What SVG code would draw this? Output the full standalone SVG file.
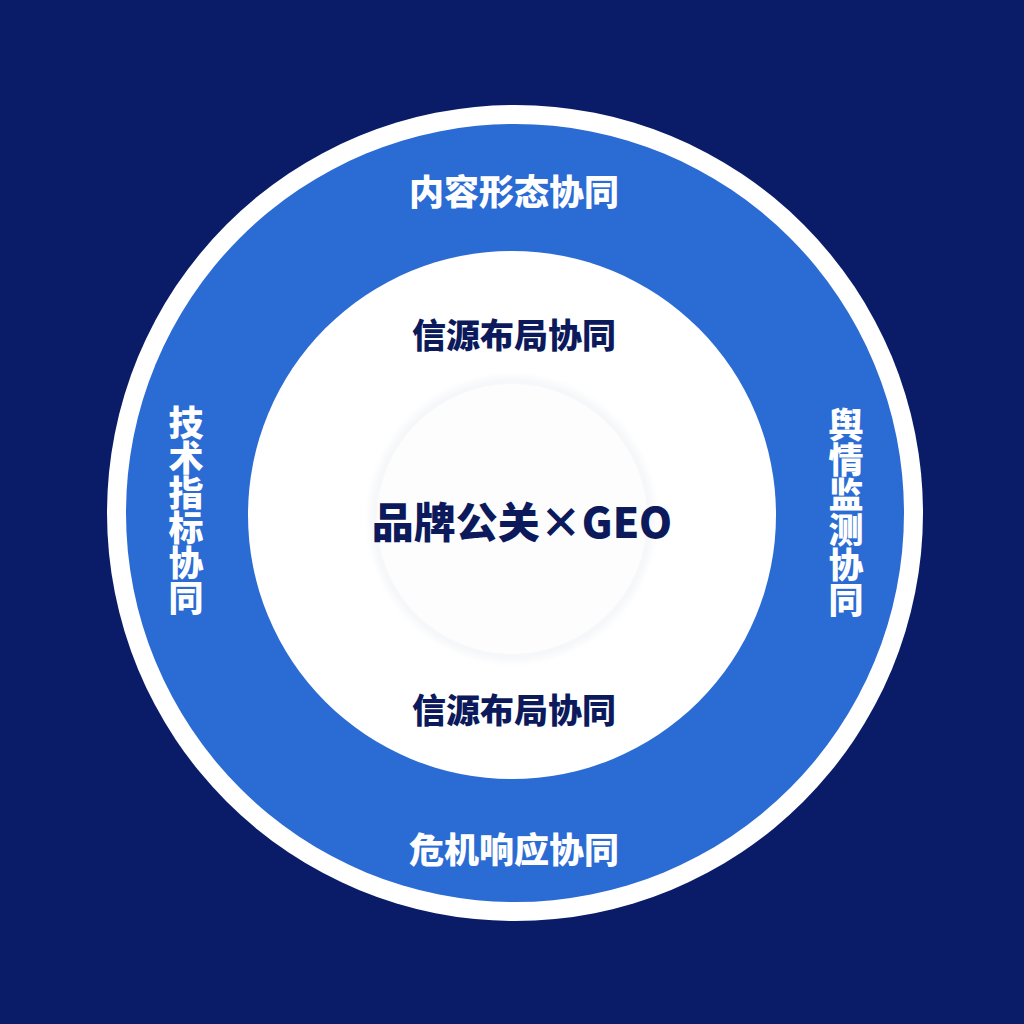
<svg xmlns="http://www.w3.org/2000/svg" width="1024" height="1024" viewBox="0 0 1024 1024">
<defs>
<style>
.lbl{font-family:"Noto Sans CJK SC","Noto Sans",sans-serif;font-weight:900;text-anchor:middle;dominant-baseline:central}
.w{fill:#ffffff;font-size:35px}
.d{fill:#0c1a5c;font-size:34px}
.v{writing-mode:vertical-rl;glyph-orientation-vertical:0}
</style>
<filter id="soft" x="-20%" y="-20%" width="140%" height="140%">
<feGaussianBlur stdDeviation="4"/>
</filter>
</defs>
<rect width="1024" height="1024" fill="#0a1c68"/>
<g id="outer-ring">
<circle cx="515" cy="513" r="408" fill="#ffffff"/>
<circle cx="515" cy="513" r="389" fill="#2b6bd4"/>
</g>
<g id="inner-circle">
<circle cx="512" cy="515" r="264" fill="#ffffff"/>
</g>
<g id="core">
<circle cx="512" cy="519" r="137" fill="none" stroke="#eef0f4" stroke-width="6" filter="url(#soft)"/>
<circle cx="512" cy="519" r="135" fill="#fdfdfe"/>
<text class="lbl" x="522" y="519" style="font-size:42px;fill:#0c1a5c">品牌公关×GEO</text>
</g>
<g id="node-top"><text class="lbl w" x="514" y="189">内容形态协同</text></g>
<g id="node-bottom"><text class="lbl w" x="514" y="847">危机响应协同</text></g>
<g id="node-left"><text class="lbl w v" x="186" y="510">技术指标协同</text></g>
<g id="node-right"><text class="lbl w v" x="846" y="512">舆情监测协同</text></g>
<g id="node-inner-top"><text class="lbl d" x="514" y="333">信源布局协同</text></g>
<g id="node-inner-bottom"><text class="lbl d" x="514" y="708">信源布局协同</text></g>
<g id="connectors"></g>
</svg>
